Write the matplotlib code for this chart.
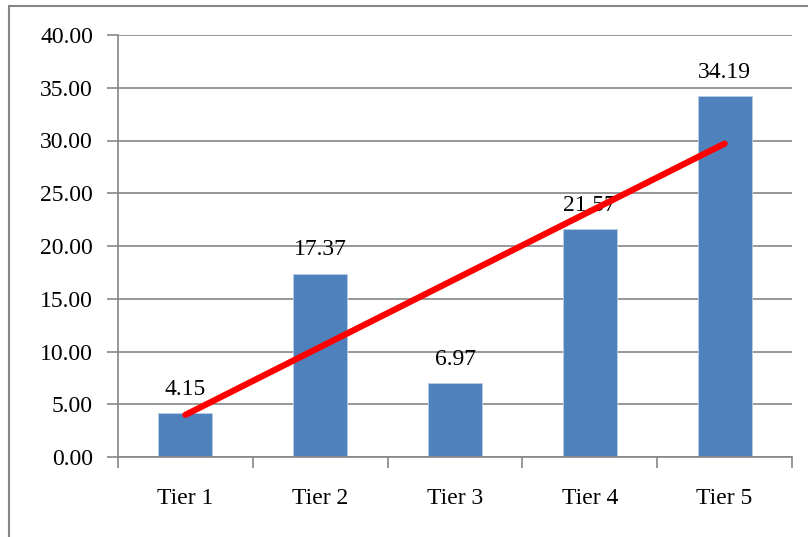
import numpy as np
import matplotlib
matplotlib.use("Agg")
import matplotlib.pyplot as plt
from matplotlib.patches import Rectangle

categories = ["Tier 1", "Tier 2", "Tier 3", "Tier 4", "Tier 5"]
values = [4.15, 17.37, 6.97, 21.57, 34.19]
y_ticks = [0, 5, 10, 15, 20, 25, 30, 35, 40]

plt.rcParams['font.family'] = ['Liberation Serif', 'DejaVu Serif']

W, H = 808, 537
fig = plt.figure(figsize=(W / 100, H / 100), dpi=100)
ax = fig.add_axes([118 / W, 1 - 457 / H, (792 - 118) / W, (457 - 35) / H])

grey = "#868686"
fs = 17
x = np.arange(len(categories))
ax.bar(x, values, width=0.4, color="#4F81BD", edgecolor="#B9CDE5", linewidth=0.6, zorder=2)

for xi, v in zip(x, values):
    ax.text(xi, v + 1.3, f"{v:.2f}", ha="center", va="bottom", fontsize=fs, color="black", zorder=3)

# linear trendline fitted through the bar values
slope, intercept = np.polyfit(x, values, 1)
ax.plot([x[0], x[-1]], [slope * x[0] + intercept, slope * x[-1] + intercept],
        color="#FF0000", linewidth=4.5, solid_capstyle="round", zorder=4)

ax.set_xlim(-0.5, len(categories) - 0.5)
ax.set_ylim(0, 40)
ax.set_yticks(y_ticks)
ax.set_yticklabels([f"{t:.2f}" for t in y_ticks])
ax.yaxis.grid(True, color=grey, linewidth=1.2, zorder=0)
ax.set_axisbelow(True)

ax.set_xticks(x)
ax.set_xticklabels(categories)
ax.set_xticks(np.arange(-0.5, len(categories), 1.0), minor=True)
ax.tick_params(axis="x", which="major", length=0, pad=22, labelsize=fs)
ax.tick_params(axis="x", which="minor", length=8, width=1.2, color=grey, direction="out")
ax.tick_params(axis="y", length=8, width=1.2, color=grey, direction="out", pad=10, labelsize=fs)

for side in ("top", "right"):
    ax.spines[side].set_visible(False)
for side in ("left", "bottom"):
    ax.spines[side].set_color(grey)
    ax.spines[side].set_linewidth(1.2)

# outer chart frame
fig.patches.append(Rectangle((9 / W, -0.1), 1.2, 1 - 6 / H + 0.1, transform=fig.transFigure,
                             fill=False, edgecolor=grey, linewidth=1.5))

fig.savefig("out.png", dpi=100)
